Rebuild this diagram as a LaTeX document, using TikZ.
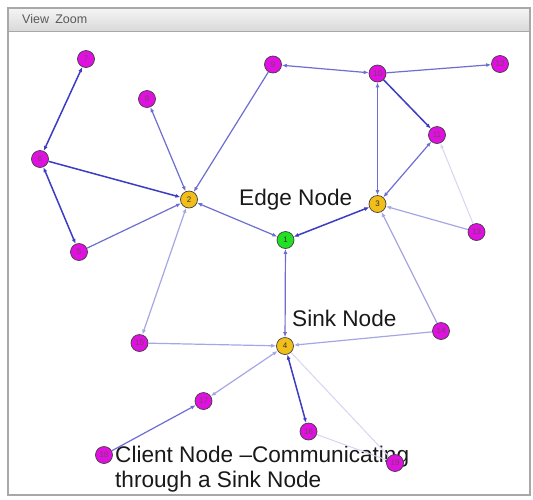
\documentclass[tikz,border=0pt]{standalone}
\usepackage{fontspec}
\setmainfont{Liberation Sans}
\usetikzlibrary{arrows.meta}

\definecolor{nodemag}{HTML}{E010E0}
\definecolor{nodeyel}{HTML}{F2BE1A}
\definecolor{nodegrn}{HTML}{22E022}
\definecolor{edgedark}{HTML}{3C3CC4}
\definecolor{edgemid}{HTML}{6E6ED2}
\definecolor{edgelight}{HTML}{A6A6E4}
\definecolor{edgefaint}{HTML}{D6D6F2}
\definecolor{framegray}{HTML}{A8A8A8}

\tikzset{
  vertex/.style={circle, draw=black!75, line width=0.7pt, minimum size=17pt,
    inner sep=0pt, font=\fontsize{8}{8}\selectfont, text=black!80},
  client/.style={vertex, fill=nodemag, text=black!65!magenta},
  gateway/.style={vertex, fill=nodeyel},
  root/.style={vertex, fill=nodegrn},
  >={Latex[length=5pt,width=4pt]},
  ldark/.style={draw=edgedark, line width=1.5pt},
  lmid/.style={draw=edgemid, line width=1.2pt},
  llight/.style={draw=edgelight, line width=1.2pt},
  lfaint/.style={draw=edgefaint, line width=1pt},
  caption/.style={font=\fontsize{22.6}{25}\selectfont, text=black!90, inner sep=0pt, anchor=west, align=left}
}

\begin{document}
\begin{tikzpicture}[x=1pt,y=-1pt]
\useasboundingbox (0,0) rectangle (533,499);
\fill[white] (0,0) rectangle (533,499);

% window with menu bar
\shade[top color=white!96!black, bottom color=white!85!black] (8,8) rectangle (530,31);
\draw[framegray, line width=0.8pt] (8,31) -- (530,31);
\draw[framegray, line width=1.5pt] (8,8) rectangle (530,495);
\node[anchor=west, inner sep=0pt, font=\fontsize{12.5}{14}\selectfont, text=black!65] (menu) at (22,19.5) {View\hspace{0.5em}Zoom};

% captions
\node[caption] (edgetxt) at (239,200) {Edge Node};
\node[caption] (sinktxt) at (292,318) {Sink Node};
\node[caption] (clienttxt) at (115,469.5) {Client Node --Communicating\\through a Sink Node};

% vertices
\node[root]    (n1)  at (285.5,240) {1};
\node[gateway] (n2)  at (189,199.5) {2};
\node[gateway] (n3)  at (377.5,204) {3};
\node[gateway] (n4)  at (285,346) {4};
\node[client]  (n5)  at (79,252) {5};
\node[client]  (n6)  at (40,159) {6};
\node[client]  (n7)  at (86,59) {7};
\node[client]  (n8)  at (147,99) {8};
\node[client]  (n9)  at (273,64.5) {9};
\node[client]  (n10) at (377.5,73.5) {10};
\node[client]  (n11) at (437,135) {11};
\node[client]  (n12) at (500,64) {12};
\node[client]  (n13) at (476.5,232) {13};
\node[client]  (n14) at (441,331) {14};
\node[client]  (n15) at (139.5,343) {15};
\node[client]  (n16) at (308.5,431.5) {16};
\node[client]  (n17) at (203.5,401) {17};
\node[client]  (n18) at (104,455) {18};
\node[client]  (n19) at (395,463) {19};

% links
\draw[ldark, <->] (n7) -- (n6);
\draw[ldark, ->]  (n6) -- (n2);
\draw[ldark, <->] (n6) -- (n5);
\draw[lmid, ->]   (n5) -- (n2);
\draw[lmid, <->]  (n8) -- (n2);
\draw[lmid, ->]   (n9) -- (n2);
\draw[lmid, <->]  (n2) -- (n1);
\draw[llight, <->] (n15) -- (n2);
\draw[lmid, <->]  (n9) -- (n10);
\draw[lmid, ->]   (n10) -- (n12);
\draw[ldark, ->]  (n10) -- (n11);
\draw[lmid, <->]  (n10) -- (n3);
\draw[lmid, <->]  (n11) -- (n3);
\draw[ldark, <->] (n3) -- (n1);
\draw[lfaint, ->] (n13) -- (n11);
\draw[llight, ->] (n13) -- (n3);
\draw[llight, ->] (n14) -- (n3);
\draw[lmid, <->]  (n1) -- (n4);
\draw[llight, ->] (n15) -- (n4);
\draw[llight, ->] (n14) -- (n4);
\draw[llight, <->] (n17) -- (n4);
\draw[lmid, ->]   (n18) -- (n17);
\draw[ldark, <->] (n16) -- (n4);
\draw[lfaint]     (n16) -- (n19);
\draw[lfaint]     (n19) -- (n4);
\end{tikzpicture}
\end{document}
